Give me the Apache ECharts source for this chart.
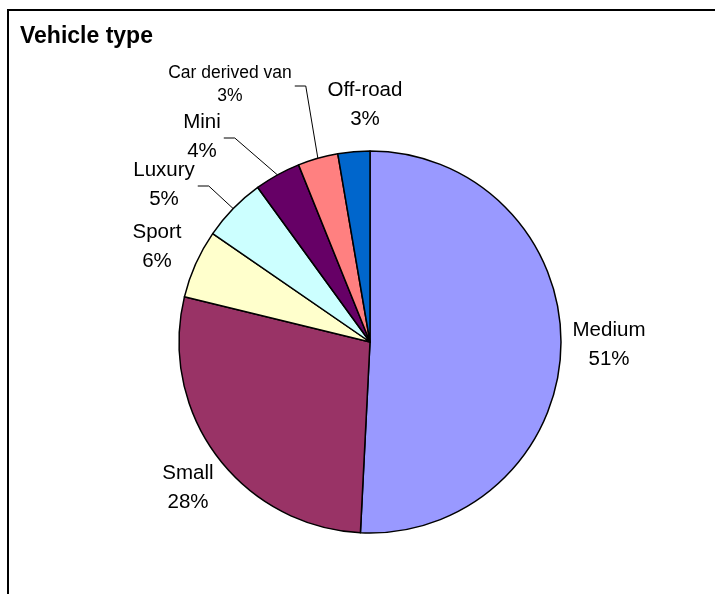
<!DOCTYPE html>
<html>
<head>
<meta charset="utf-8">
<script src="https://cdn.jsdelivr.net/npm/echarts@6/dist/echarts.min.js"></script>
<style>
html, body { margin: 0; padding: 0; background: #fff; }
#chart { width: 715px; height: 594px; }
</style>
</head>
<body>
<div id="chart"></div>
<script>
// shares (clockwise from 12 o'clock)
const categories = ['Medium', 'Small', 'Sport', 'Luxury', 'Mini', 'Car derived van', 'Off-road']
const shares = [50.8, 28.0, 5.8, 5.4, 3.9, 3.4, 2.7]
const colors = ['#9999ff', '#993366', '#ffffcc', '#ccffff', '#660066', '#ff8080', '#0066cc']
// where each label sits (centre of the text block)
const labelPos = [[609, 345], [188, 488], [157, 247], [164, 185], [202, 137], [230, 85], [365, 105]]
const withLeader = [false, false, false, true, true, true, false]

const total = shares.reduce((a, b) => a + b, 0)
const chart = echarts.init(document.getElementById('chart'))

const option = {
  backgroundColor: '#fff',
  animation: false,
  title: {
    text: 'Vehicle type',
    left: 15,
    top: 20,
    textStyle: { fontFamily: 'Liberation Sans', fontSize: 23, fontWeight: 'bold', color: '#000' }
  },
  graphic: [
    {
      type: 'rect',
      silent: true,
      shape: { x: 8, y: 10, width: 760, height: 640 },
      style: { fill: 'none', stroke: '#000', lineWidth: 2 }
    }
  ],
  series: [
    {
      type: 'pie',
      center: [370, 342],
      radius: 191,
      startAngle: 90,
      clockwise: true,
      avoidLabelOverlap: false,
      emphasis: { disabled: true },
      itemStyle: { borderColor: '#000', borderWidth: 1.5 },
      label: {
        position: 'outside',
        fontFamily: 'Liberation Sans',
        fontSize: 20.5,
        lineHeight: 29,
        color: '#000',
        formatter: function (p) {
          return p.name + '\n' + Math.round(p.value / total * 100) + '%'
        }
      },
      labelLine: { show: true, lineStyle: { color: '#000', width: 1 } },
      labelLayout: function (p) {
        const x = labelPos[p.dataIndex][0]
        const y = labelPos[p.dataIndex][1]
        const out = { x: x, y: y, align: 'center', verticalAlign: 'middle' }
        if (withLeader[p.dataIndex] && p.labelLinePoints) {
          const right = x + p.labelRect.width / 2 + 3
          out.labelLinePoints = [p.labelLinePoints[0], [right + 11, y + 1], [right, y + 1]]
        }
        return out
      },
      data: categories.map(function (c, i) {
        const item = {
          name: c,
          value: shares[i],
          itemStyle: { color: colors[i] },
          labelLine: { show: withLeader[i] }
        }
        if (c === 'Car derived van') item.label = { fontSize: 17.5, lineHeight: 23 }
        return item
      })
    }
  ]
}

chart.setOption(option)
</script>
</body>
</html>
